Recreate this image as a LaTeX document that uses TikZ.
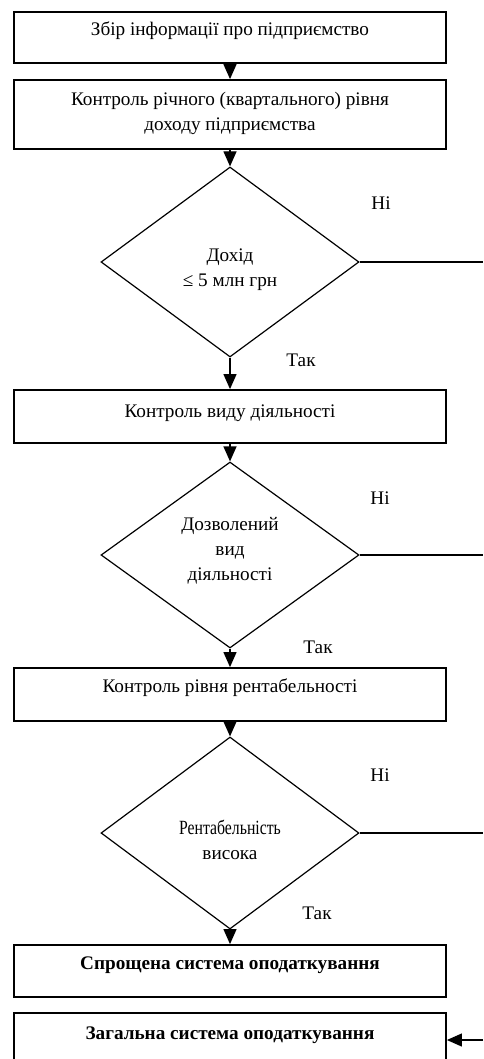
\documentclass[tikz,border=0pt]{standalone}
\usepackage{fontspec}
\setmainfont{Liberation Serif}
\usepackage{graphicx}
\usetikzlibrary{shapes.geometric,arrows.meta}
\tikzset{
  box/.style={draw, line width=1.8pt, minimum width=432pt, inner sep=0pt},
  dmd/.style={draw, diamond, line width=1.2pt, minimum width=258pt, inner sep=0pt},
  txt/.style={align=center, inner sep=0pt, font=\fontsize{19.2}{25}\selectfont},
  lbl/.style={inner sep=0pt, font=\fontsize{19.2}{25}\selectfont},
  arr/.style={line width=1.2pt, -{Triangle[width=13pt,length=15pt]}},
  ln/.style={line width=1.2pt}
}
\begin{document}
\begin{tikzpicture}[x=1pt,y=-1pt]
\useasboundingbox (0,0) rectangle (483,1059);
% boxes
\node[box, minimum height=51pt] (b1) at (230,37.5) {};
\node[box, minimum height=69pt] (b2) at (230,114.5) {};
\node[box, minimum height=53pt] (b3) at (230,416.5) {};
\node[box, minimum height=53pt] (b4) at (230,694.5) {};
\node[box, minimum height=52pt] (b5) at (230,971) {};
\node[box, minimum height=58pt] (b6) at (230,1042) {};
% diamonds
\node[dmd, minimum height=190pt] (d1) at (230,262) {};
\node[dmd, minimum height=186pt] (d2) at (230,555) {};
\node[dmd, minimum height=192pt] (d3) at (230,833) {};
% texts
\node[txt] (t1) at (230,31) {Збір інформації про підприємство};
\node[txt] (t2) at (230,113) {Контроль річного (квартального) рівня\\доходу підприємства};
\node[txt] (td1) at (230,270) {Дохід\\≤ 5 млн грн};
\node[txt] (t3) at (230,413) {Контроль виду діяльності};
\node[txt] (td2) at (230,551) {Дозволений\\вид\\діяльності};
\node[txt] (t4) at (230,688) {Контроль рівня рентабельності};
\node[txt] (td3) at (230,840) {\scalebox{0.82}[1.05]{Рентабельність}\\висока};
\node[txt, font=\fontsize{19.2}{25}\selectfont\bfseries] (t5) at (230,965) {Спрощена система оподаткування};
\node[txt, font=\fontsize{19.2}{25}\selectfont\bfseries] (t6) at (230,1035) {Загальна система оподаткування};
% labels
\node[lbl] (n1) at (381,203) {Ні};
\node[lbl] (n2) at (380,498) {Ні};
\node[lbl] (n3) at (380,775) {Ні};
\node[lbl] (y1) at (301,360) {Так};
\node[lbl] (y2) at (318,647) {Так};
\node[lbl] (y3) at (317,913) {Так};
% connectors
\draw[arr] (b1.south) -- (b2.north);
\draw[arr] (b2.south) -- (d1.north);
\draw[arr] (d1.south) -- (b3.north);
\draw[arr] (b3.south) -- (d2.north);
\draw[arr] (d2.south) -- (b4.north);
\draw[arr] (b4.south) -- (d3.north);
\draw[arr] (d3.south) -- (b5.north);
\coordinate (e1) at (483,262);
\coordinate (e2) at (483,555);
\coordinate (e3) at (483,833);
\coordinate (e4) at (483,1040);
\draw[ln] (d1.east) -- (e1);
\draw[ln] (d2.east) -- (e2);
\draw[ln] (d3.east) -- (e3);
\draw[arr] (e4) -- (b6.east |- e4);
\end{tikzpicture}
\end{document}
